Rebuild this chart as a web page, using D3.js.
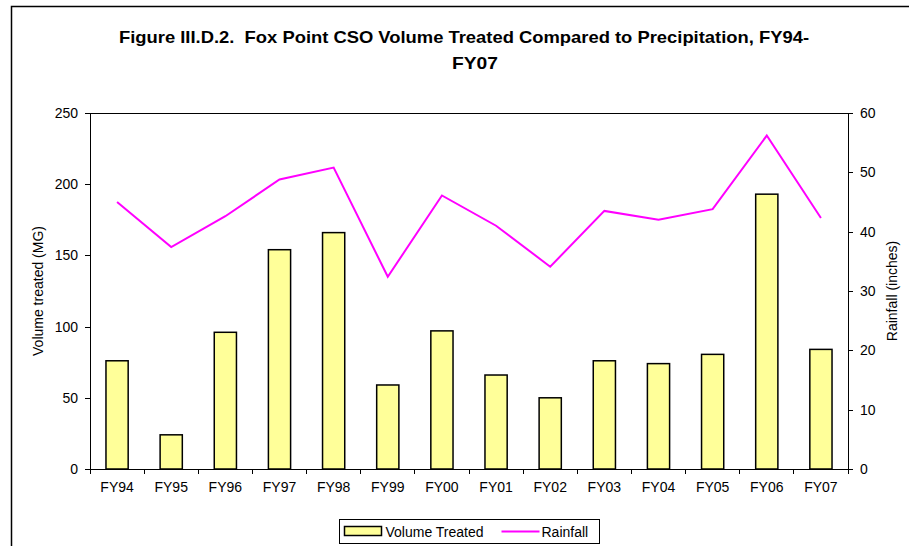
<!DOCTYPE html>
<html>
<head>
<meta charset="utf-8">
<script src="https://cdn.jsdelivr.net/npm/d3@7"></script>
<style>
  body { margin: 0; background: #fff; }
  svg { display: block; font-family: Arial, "Liberation Sans", sans-serif; }
  .axis path, .axis line { stroke: #000; shape-rendering: crispEdges; }
  .axis text { font-size: 14px; fill: #000; }
</style>
</head>
<body>
<svg id="chart" width="909" height="546"></svg>
<script>
// chart data
var years = ["FY94","FY95","FY96","FY97","FY98","FY99","FY00","FY01","FY02","FY03","FY04","FY05","FY06","FY07"];
var volume = [76, 24, 96, 154, 166, 59, 97, 66, 50, 76, 74, 80.5, 193, 84];
var rainfall = [45, 37.4, 42.6, 48.8, 50.8, 32.4, 46.1, 41, 34.1, 43.5, 42, 43.8, 56.2, 42.3];
var volTicks = [0, 50, 100, 150, 200, 250];
var rainTicks = [0, 10, 20, 30, 40, 50, 60];

var barColor = "#FFFF99";
var lineColor = "#FF00FF";

var svg = d3.select("#chart"),
  margin = {top: 113, right: 61, bottom: 77, left: 90},
  width = 909 - margin.left - margin.right,
  height = 546 - margin.top - margin.bottom;

// outer frame (only top and left edges are inside the picture)
svg.append("path")
  .attr("d", "M11.5,546V6.5H909")
  .attr("fill", "none")
  .attr("stroke", "#000")
  .attr("stroke-width", 1.5);

// title
var title = svg.append("text")
  .attr("text-anchor", "middle")
  .style("font-size", "17px")
  .style("font-weight", "bold");
title.append("tspan").attr("x", 464).attr("y", 43)
  .attr("textLength", 690)
  .attr("lengthAdjust", "spacingAndGlyphs")
  .style("white-space", "pre")
  .text("Figure III.D.2.  Fox Point CSO Volume Treated Compared to Precipitation, FY94-");
title.append("tspan").attr("x", 475).attr("y", 69)
  .attr("textLength", 46)
  .attr("lengthAdjust", "spacingAndGlyphs")
  .text("FY07");

var g = svg.append("g")
  .attr("transform", "translate(" + margin.left + "," + margin.top + ")");

var x = d3.scaleBand().domain(years).range([0, width]).padding(0);
var y = d3.scaleLinear().domain([0, 250]).range([height, 0]);
var y2 = d3.scaleLinear().domain([0, 60]).range([height, 0]);

// plot area top border
g.append("line")
  .attr("x1", 0).attr("x2", width)
  .attr("y1", 0.5).attr("y2", 0.5)
  .attr("stroke", "#000")
  .attr("stroke-width", 1);

// bars
var bw = x.bandwidth() * 0.41;
g.selectAll(".bar")
  .data(volume)
  .enter().append("rect")
  .attr("class", "bar")
  .attr("x", function(d, i) { return x(years[i]) + (x.bandwidth() - bw) / 2; })
  .attr("y", function(d) { return y(d); })
  .attr("width", bw)
  .attr("height", function(d) { return height - y(d); })
  .attr("fill", barColor)
  .attr("stroke", "#000")
  .attr("stroke-width", 1.5);

// rainfall line
var line = d3.line()
  .x(function(d, i) { return x(years[i]) + x.bandwidth() / 2; })
  .y(function(d) { return y2(d); });

g.append("path")
  .datum(rainfall)
  .attr("d", line)
  .attr("fill", "none")
  .attr("stroke", lineColor)
  .attr("stroke-width", 2);

// left axis
g.append("g")
  .attr("class", "axis")
  .call(d3.axisLeft(y).tickValues(volTicks).tickSize(5).tickPadding(7).tickSizeOuter(0));

// right axis
g.append("g")
  .attr("class", "axis")
  .attr("transform", "translate(" + width + ",0)")
  .call(d3.axisRight(y2).tickValues(rainTicks).tickSize(5).tickPadding(7).tickSizeOuter(0));

// x axis: labels centred, ticks between categories
var xAxis = g.append("g")
  .attr("class", "axis")
  .attr("transform", "translate(0," + height + ")")
  .call(d3.axisBottom(x).tickSize(0).tickPadding(13).tickSizeOuter(0));
xAxis.selectAll(".boundary")
  .data(years.concat(["end"]))
  .enter().append("line")
  .attr("class", "boundary")
  .attr("x1", function(d, i) { return i < years.length ? x(d) : width; })
  .attr("x2", function(d, i) { return i < years.length ? x(d) : width; })
  .attr("y1", 0).attr("y2", 5)
  .attr("stroke", "#000");

// axis titles
svg.append("text")
  .attr("transform", "translate(43," + (margin.top + height / 2) + ") rotate(-90)")
  .attr("text-anchor", "middle")
  .style("font-size", "14px")
  .text("Volume treated (MG)");

svg.append("text")
  .attr("transform", "translate(897," + (margin.top + height / 2) + ") rotate(-90)")
  .attr("text-anchor", "middle")
  .style("font-size", "14px")
  .text("Rainfall (inches)");

// legend
var legend = svg.append("g").attr("transform", "translate(339.5,519.5)");
legend.append("rect")
  .attr("width", 260).attr("height", 24)
  .attr("fill", "#fff").attr("stroke", "#000").attr("stroke-width", 1);
legend.append("rect")
  .attr("x", 5).attr("y", 7).attr("width", 37).attr("height", 9)
  .attr("fill", barColor).attr("stroke", "#000").attr("stroke-width", 1.5);
legend.append("text")
  .attr("x", 46).attr("y", 17)
  .style("font-size", "14px")
  .text("Volume Treated");
legend.append("line")
  .attr("x1", 162).attr("x2", 200).attr("y1", 12).attr("y2", 12)
  .attr("stroke", lineColor).attr("stroke-width", 2);
legend.append("text")
  .attr("x", 202).attr("y", 17)
  .style("font-size", "14px")
  .text("Rainfall");
</script>
</body>
</html>
